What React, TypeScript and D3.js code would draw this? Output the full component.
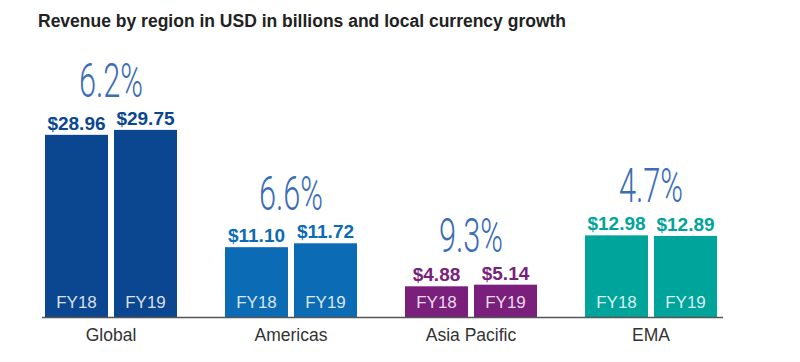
import React from 'react'
import * as d3 from 'd3'

// data
const regions = ['Global', 'Americas', 'Asia Pacific', 'EMA']
const years = ['FY18', 'FY19']
const fy18 = [28.96, 11.1, 4.88, 12.98]
const fy19 = [29.75, 11.72, 5.14, 12.89]
const growth = ['6.2%', '6.6%', '9.3%', '4.7%']
const colors = ['#0b4690', '#0b6bb4', '#7a1f7c', '#00a49b']

const width = 800
const height = 362
const baseY = 317

export default function App() {
  const x = d3
    .scaleBand()
    .domain(regions)
    .range([21, 741])
    .paddingInner(0.2667)
    .paddingOuter(0.1333)

  const xi = d3
    .scaleBand()
    .domain(years)
    .range([0, x.bandwidth()])
    .paddingInner(0.087)

  const y = d3.scaleLinear().domain([0, 30]).range([baseY, baseY - 188.7])

  return (
    <svg
      width={width}
      height={height}
      style={{ position: 'absolute', left: 0, top: 0, background: '#fff' }}
      fontFamily="'Liberation Sans', Arial, sans-serif"
    >
      <text x={38} y={27} fontSize={17.5} fontWeight="bold" fill="#222">
        Revenue by region in USD in billions and local currency growth
      </text>
      {regions.map((r, i) => {
        const vals = [fy18[i], fy19[i]]
        const gx = x(r)
        const cx = gx + x.bandwidth() / 2
        const top = y(d3.max(vals))
        return (
          <g key={r}>
            {years.map((yr, j) => {
              const bx = gx + xi(yr)
              const bw = xi.bandwidth()
              return (
                <g key={yr}>
                  <rect
                    x={bx}
                    y={y(vals[j])}
                    width={bw}
                    height={baseY - y(vals[j])}
                    fill={colors[i]}
                  />
                  <text
                    x={bx + bw / 2}
                    y={y(vals[j]) - 5}
                    textAnchor="middle"
                    fontSize={19}
                    fontWeight="bold"
                    fill={colors[i]}
                  >
                    {'$' + vals[j].toFixed(2)}
                  </text>
                  <text
                    x={bx + bw / 2}
                    y={baseY - 9}
                    textAnchor="middle"
                    fontSize={17}
                    fill="#fff"
                    fillOpacity={0.85}
                  >
                    {yr}
                  </text>
                </g>
              )
            })}
            {/* local currency growth, above the taller bar's label */}
            <text
              transform={`translate(${cx},${top - 33}) scale(0.64,1)`}
              textAnchor="middle"
              fontSize={48}
              fontFamily="Roboto, sans-serif"
              fontWeight={300}
              fill="#3a6db5"
            >
              {growth[i]}
            </text>
            <text
              x={cx}
              y={baseY + 24}
              textAnchor="middle"
              fontSize={17.5}
              fill="#333"
            >
              {r}
            </text>
          </g>
        )
      })}
      <line x1={42} x2={723} y1={baseY + 0.5} y2={baseY + 0.5} stroke="#555" strokeWidth={1.5} />
    </svg>
  )
}
